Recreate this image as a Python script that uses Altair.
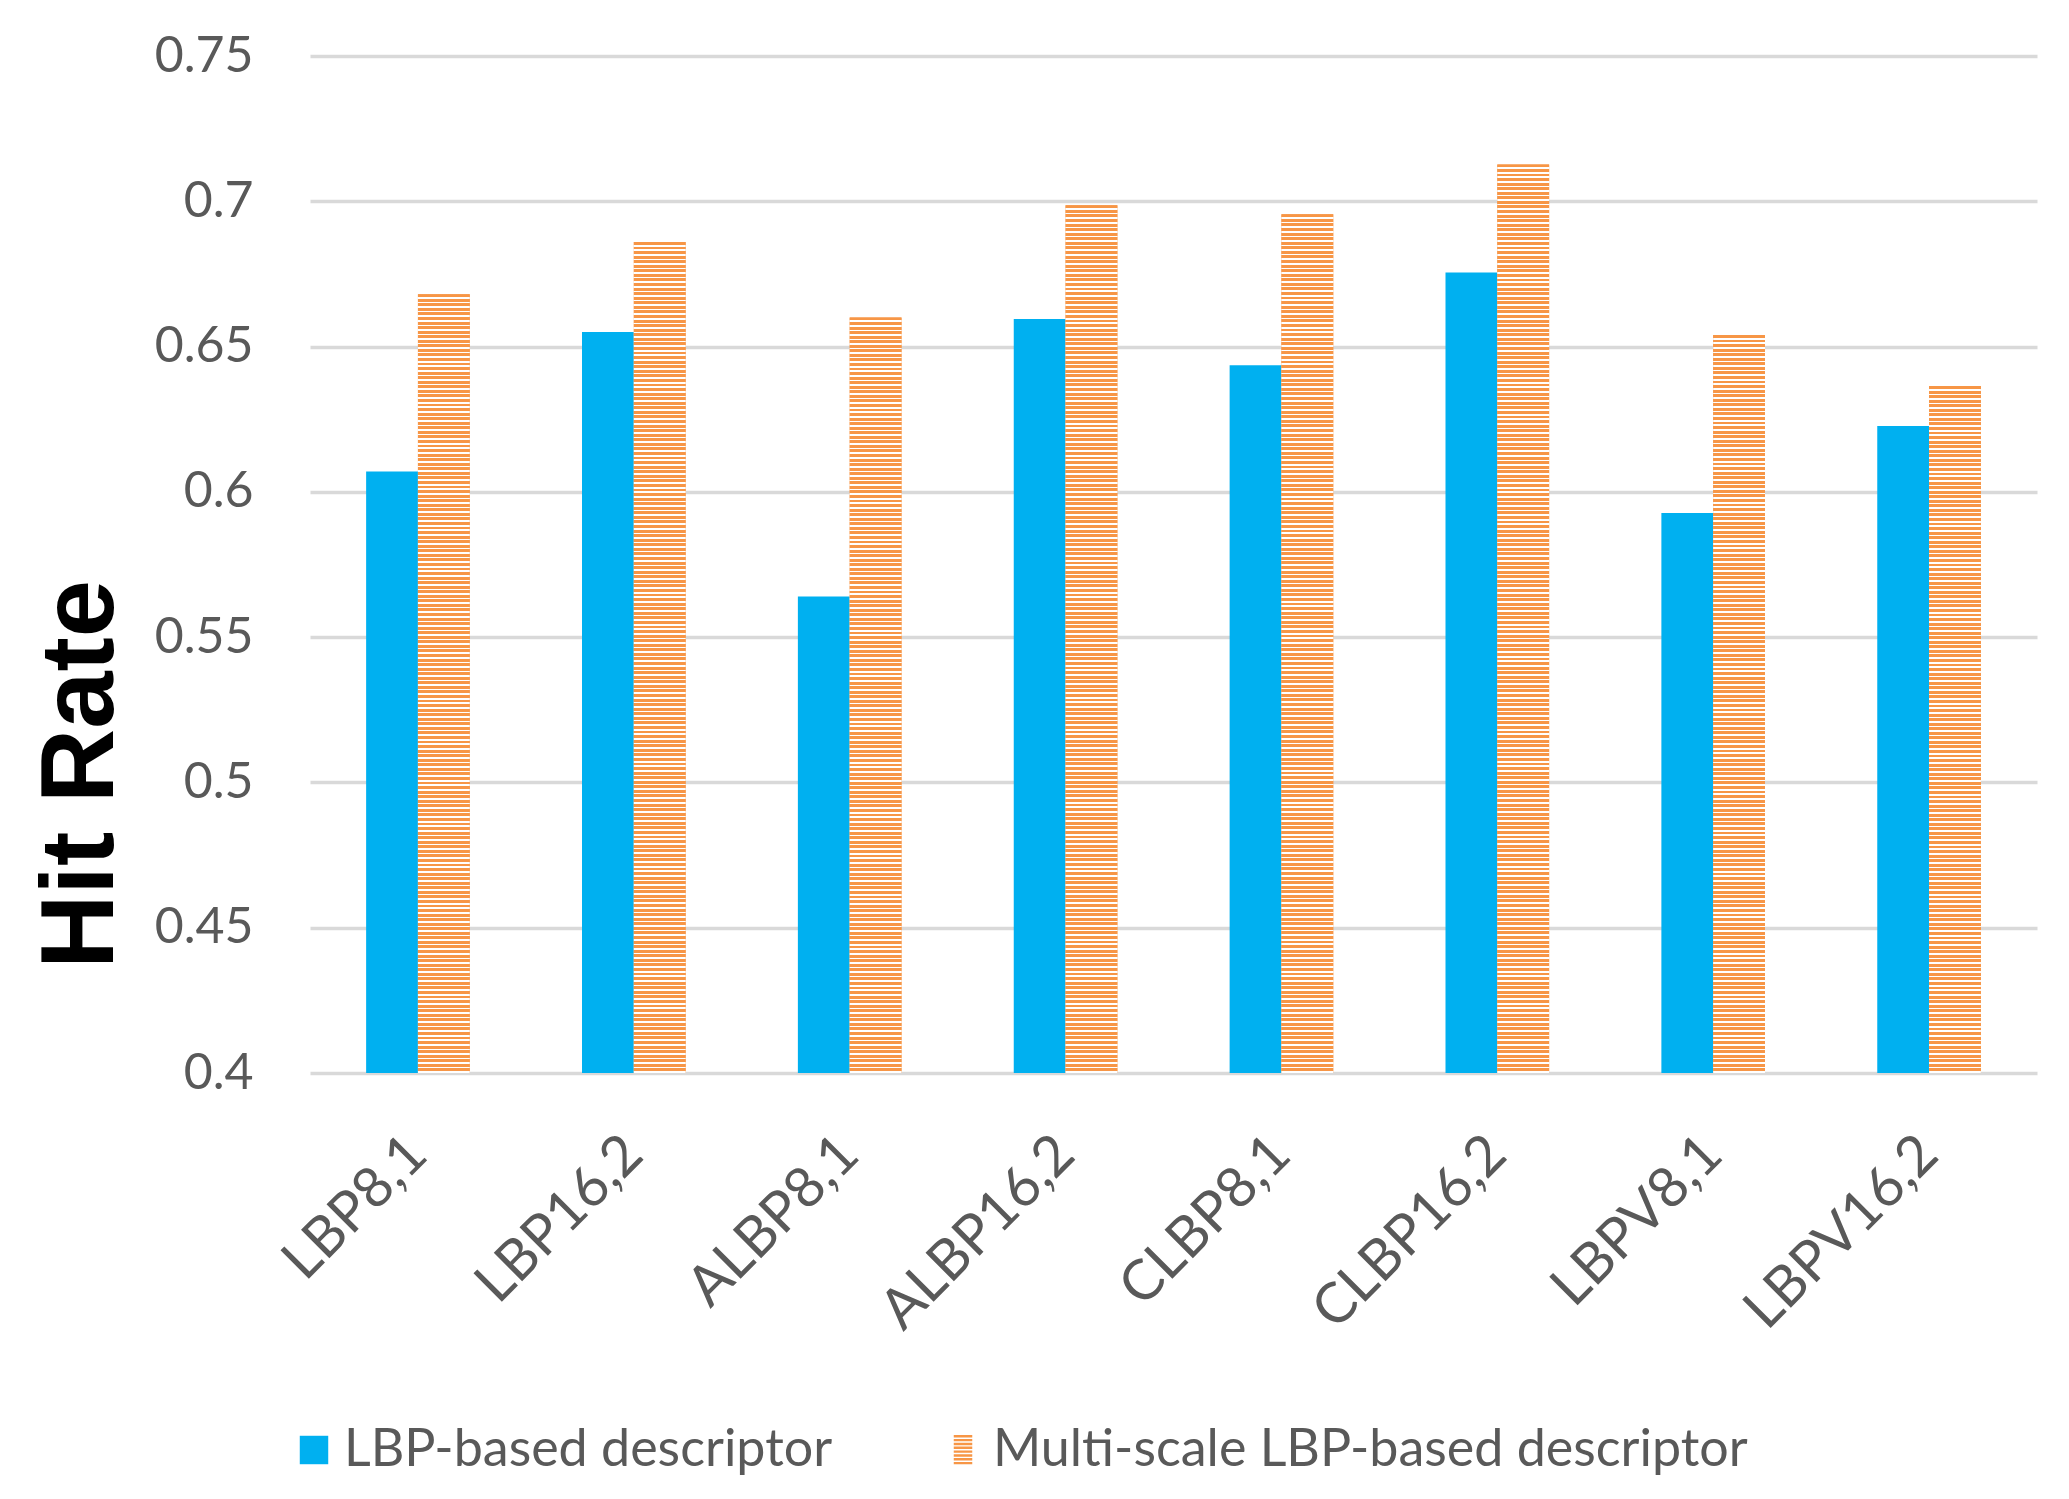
import altair as alt
import pandas as pd

categories = ["LBP8,1", "LBP16,2", "ALBP8,1", "ALBP16,2", "CLBP8,1", "CLBP16,2", "LBPV8,1", "LBPV16,2"]
lbp_values = [0.607, 0.655, 0.564, 0.6595, 0.6436, 0.6755, 0.5927, 0.6227]
multi_values = [0.668, 0.686, 0.660, 0.6986, 0.6955, 0.7127, 0.654, 0.6364]
series_names = ["LBP-based descriptor", "Multi-scale LBP-based descriptor"]
y_ticks = [0.4, 0.45, 0.5, 0.55, 0.6, 0.65, 0.7, 0.75]

BLUE = "#00B0F0"
ORANGE = "#F79646"
TEXT = "#595959"
FONT = "Lato"

rows = []
for c, a, b in zip(categories, lbp_values, multi_values):
    rows.append({"category": c, "series": series_names[0], "value": a})
    rows.append({"category": c, "series": series_names[1], "value": b})
df = pd.DataFrame(rows)

W, H = 1727, 1017
ymin, ymax = 0.4, 0.75
period_px = 4.56


def stripe_gradient(v):
    n = max(1, round((v - ymin) / (ymax - ymin) * H / period_px))
    stops = []
    for k in range(n):
        a = k / n
        m = (k + 0.64) / n
        e = (k + 1) / n
        stops += [
            {"offset": a, "color": ORANGE},
            {"offset": m, "color": ORANGE},
            {"offset": m, "color": "#FFFFFF"},
            {"offset": e, "color": "#FFFFFF"},
        ]
    return {"gradient": "linear", "x1": 0, "y1": 0, "x2": 0, "y2": 1, "stops": stops}


# legend symbol path for striped swatch
parts = []
for k in range(8):
    y0 = -1.05 + k * 0.27
    parts.append(f"M-0.65,{y0:.3f}H0.65V{y0 + 0.17:.3f}H-0.65Z")
stripe_path = "".join(parts)

x_enc = alt.X(
    "category:N",
    sort=categories,
    scale=alt.Scale(paddingInner=0.52, paddingOuter=0.26),
    axis=alt.Axis(
        title=None,
        labelAngle=-45,
        labelAlign="right",
        labelBaseline="middle",
        labelFontSize=56,
        labelFont=FONT,
        labelColor=TEXT,
        labelPadding=72,
        labelLimit=1000,
        ticks=False,
        tickSize=0,
        domain=False,
        grid=False,
    ),
)
xoff_enc = alt.XOffset("series:N", sort=series_names,
                       scale=alt.Scale(domain=series_names, paddingInner=0, paddingOuter=0))
y_enc = alt.Y(
    "value:Q",
    scale=alt.Scale(domain=[ymin, ymax], zero=False, nice=False),
    axis=alt.Axis(
        title="Hit Rate",
        values=y_ticks,
        labelExpr="format(datum.value, '.2~f')",
        labelFontSize=50,
        labelFont=FONT,
        labelColor=TEXT,
        labelPadding=57,
        ticks=False,
        tickSize=0,
        domain=False,
        grid=True,
        gridColor="#D9D9D9",
        gridWidth=3.5,
        titleFont="Liberation Sans",
        titleFontWeight="bold",
        titleFontSize=103,
        titleColor="#000000",
        titleAngle=270,
        titleAlign="center",
        titleBaseline="alphabetic",
        titleX=-198,
        titleY=718,
    ),
)

legend = alt.Legend(
    title=None,
    orient="none",
    direction="horizontal",
    legendX=-22,
    legendY=1368,
    labelFont=FONT,
    labelFontSize=52,
    labelColor=TEXT,
    labelOffset=4,
    columnPadding=104,
    symbolSize=810,
    symbolStrokeWidth=0,
    padding=0,
    labelLimit=1000,
)

color_enc = alt.Color(
    "series:N",
    sort=series_names,
    scale=alt.Scale(domain=series_names, range=[BLUE, ORANGE]),
    legend=legend,
)

base = alt.Chart(df).mark_bar().encode(
    x=x_enc,
    xOffset=xoff_enc,
    y=y_enc,
    y2=alt.datum(ymin),
    color=color_enc,
)

# empty point layer that only supplies the legend symbol shapes
legend_layer = (
    alt.Chart(df)
    .transform_filter("false")
    .mark_point(filled=True, opacity=1)
    .encode(
        x=x_enc,
        y=y_enc,
        color=color_enc,
        shape=alt.Shape(
            "series:N",
            sort=series_names,
            scale=alt.Scale(domain=series_names, range=["square", stripe_path]),
            legend=legend,
        ),
    )
)

layers = [base]
for c, v in zip(categories, multi_values):
    layers.append(
        alt.Chart(df)
        .transform_filter(f"datum.category === '{c}' && datum.series === '{series_names[1]}'")
        .mark_bar(color=stripe_gradient(v))
        .encode(x=x_enc, xOffset=xoff_enc, y=y_enc, y2=alt.datum(ymin))
    )
layers.append(legend_layer)

chart = (
    alt.layer(*layers)
    .properties(
        width=W,
        height=H,
        background="white",
        autosize=alt.AutoSizeParams(type="none"),
        padding={"left": 302, "top": 48, "right": 24, "bottom": 418},
    )
    .configure_view(strokeWidth=0, stroke="transparent")
)

chart.save("out.html", embed_options={"renderer": "svg", "actions": False})
